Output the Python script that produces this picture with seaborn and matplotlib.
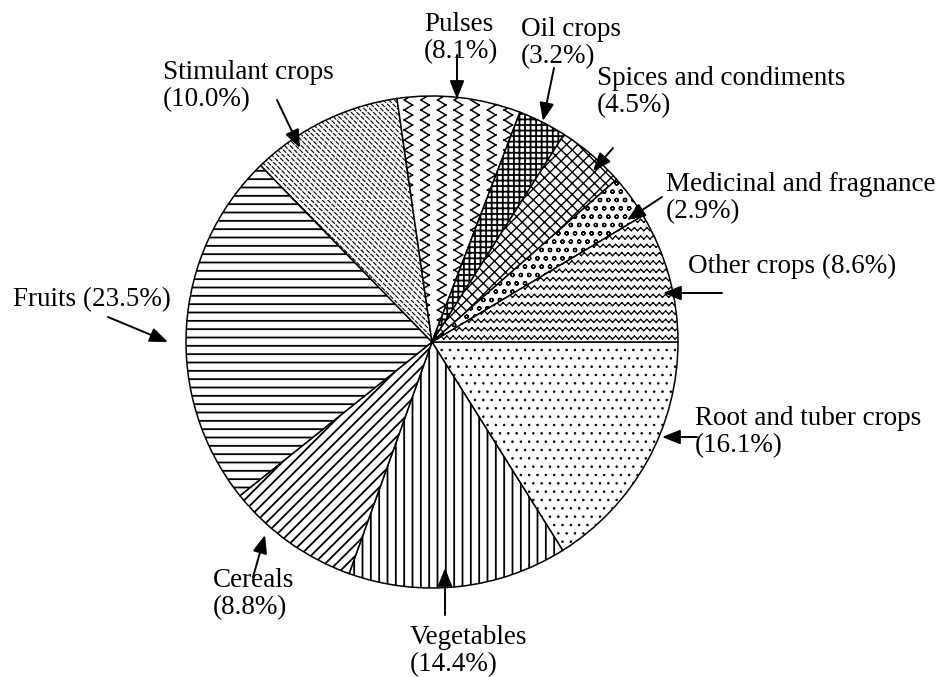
import warnings
import numpy as np
import matplotlib
matplotlib.use("Agg")
import matplotlib.pyplot as plt
from matplotlib import hatch as mhatch
from matplotlib.path import Path
import seaborn as sns

warnings.filterwarnings("ignore")

# data, clockwise from 3 o'clock
crops = ["Root and tuber crops", "Vegetables", "Cereals", "Fruits", "Stimulant crops",
         "Pulses", "Oil crops", "Spices and condiments", "Medicinal and fragnance", "Other crops"]
shares = [16.1, 14.4, 8.8, 23.5, 10.0, 8.1, 3.2, 4.5, 2.9, 8.6]
labels = ["Root and tuber crops\n(16.1%)", "Vegetables\n(14.4%)", "Cereals\n(8.8%)",
          "Fruits (23.5%)", "Stimulant crops\n(10.0%)", "Pulses\n(8.1%)", "Oil crops\n(3.2%)",
          "Spices and condiments\n(4.5%)", "Medicinal and fragnance\n(2.9%)", "Other crops (8.6%)"]
hatches = ["..", "||", "///", "--", "ddd", "z", "+++", "xxx", "oo", "ww"]


def put_segments(vertices, codes, pts):
    # polyline -> separate 2-point segments (agg fills closed hatch paths)
    vertices[0::2] = pts[:-1]
    vertices[1::2] = pts[1:]
    codes[0::2] = Path.MOVETO
    codes[1::2] = Path.LINETO


# extra hatch patterns: zigzag columns (z), zigzag rows (w), dashed diagonals (d)
class ZigzagColumns(mhatch.HatchPatternBase):
    def __init__(self, hatch, density):
        self.num_lines = hatch.count("z") * density
        self.segs = 20
        self.num_vertices = self.num_lines * self.segs * 2

    def set_vertices_and_codes(self, vertices, codes):
        n, k = self.num_lines, self.segs
        ys = np.linspace(0, 1, k + 1)
        off = np.where(np.arange(k + 1) % 2 == 0, -0.25, 0.25) / n
        for i in range(n):
            pts = np.column_stack([(i + 0.5) / n + off, ys])
            s = slice(i * 2 * k, (i + 1) * 2 * k)
            put_segments(vertices[s], codes[s], pts)


class ZigzagRows(mhatch.HatchPatternBase):
    def __init__(self, hatch, density):
        self.num_lines = hatch.count("w") * density
        self.segs = 32
        self.num_vertices = self.num_lines * self.segs * 2

    def set_vertices_and_codes(self, vertices, codes):
        n, k = self.num_lines, self.segs
        xs = np.linspace(0, 1, k + 1)
        off = np.where(np.arange(k + 1) % 2 == 0, -0.015, 0.015)
        for i in range(n):
            pts = np.column_stack([xs, (i + 0.5) / n + off])
            s = slice(i * 2 * k, (i + 1) * 2 * k)
            put_segments(vertices[s], codes[s], pts)


class DashedDiagonals(mhatch.HatchPatternBase):
    def __init__(self, hatch, density):
        self.num_lines = hatch.count("d") * density
        self.dashes = 24
        self.num_vertices = (2 * self.num_lines + 1) * self.dashes * 2 if self.num_lines else 0

    def set_vertices_and_codes(self, vertices, codes):
        n, m = self.num_lines, self.dashes
        j = 0
        for k in range(2 * n + 1):
            c = k / n
            for q in range(m):
                x0 = c - 1 + q / m
                x1 = x0 + 0.6 / m
                vertices[j] = (x0, c - x0)
                vertices[j + 1] = (x1, c - x1)
                codes[j] = Path.MOVETO
                codes[j + 1] = Path.LINETO
                j += 2


mhatch._hatch_types.extend([ZigzagColumns, ZigzagRows, DashedDiagonals])

sns.set_theme(style="white")
plt.rcParams["font.family"] = ["Liberation Serif", "DejaVu Serif"]
plt.rcParams["hatch.linewidth"] = 1.3
plt.rcParams["hatch.color"] = "black"
plt.rcParams["path.simplify"] = False

W, H = 942, 677
CX, CY, R = 432, 342, 246

fig = plt.figure(figsize=(W / 100, H / 100), dpi=100)
ax = fig.add_axes([0, 0, 1, 1])

wedges, _ = ax.pie(shares, startangle=0, counterclock=False, colors=["white"] * len(shares),
                   hatch=hatches, radius=1, center=(0, 0),
                   wedgeprops=dict(edgecolor="black", linewidth=1.1))
thin = {0: 0.6, 4: 0.8, 5: 1.1, 7: 1.0, 8: 0.9, 9: 0.9}
for i, lw in thin.items():
    if hasattr(wedges[i], "set_hatch_linewidth"):
        wedges[i].set_hatch_linewidth(lw)

ax.set_xlim(-CX / R, (W - CX) / R)
ax.set_ylim((CY - H) / R, CY / R)
ax.axis("off")


def px(x, y):
    return ((x - CX) / R, (CY - y) / R)


# label layout (pixels): text top-left, arrow tail, arrow tip
layout = [
    ((695, 406), (697, 437), (662, 437)),
    ((410, 625), (445, 615), (445, 568)),
    ((213, 568), (253, 577), (265, 535)),
    ((13, 287), (108, 317), (168, 342)),
    ((163, 60), (277, 100), (300, 148)),
    ((424, 12), (457, 55), (457, 99)),
    ((521, 17), (554, 68), (543, 121)),
    ((597, 66), (613, 148), (593, 171)),
    ((666, 172), (662, 197), (627, 220)),
    ((688, 254), (722, 293), (663, 293)),
]

for lab, (txt, tail, tip) in zip(labels, layout):
    ax.text(*px(*txt), lab, ha="left", va="top", fontsize=19.5, linespacing=1.1, color="black")
    ax.annotate("", xy=px(*tip), xytext=px(*tail),
                arrowprops=dict(arrowstyle="-|>,head_length=0.55,head_width=0.22",
                                mutation_scale=20, lw=1.4, color="black",
                                shrinkA=0, shrinkB=0))

fig.savefig("out.png", dpi=100)
